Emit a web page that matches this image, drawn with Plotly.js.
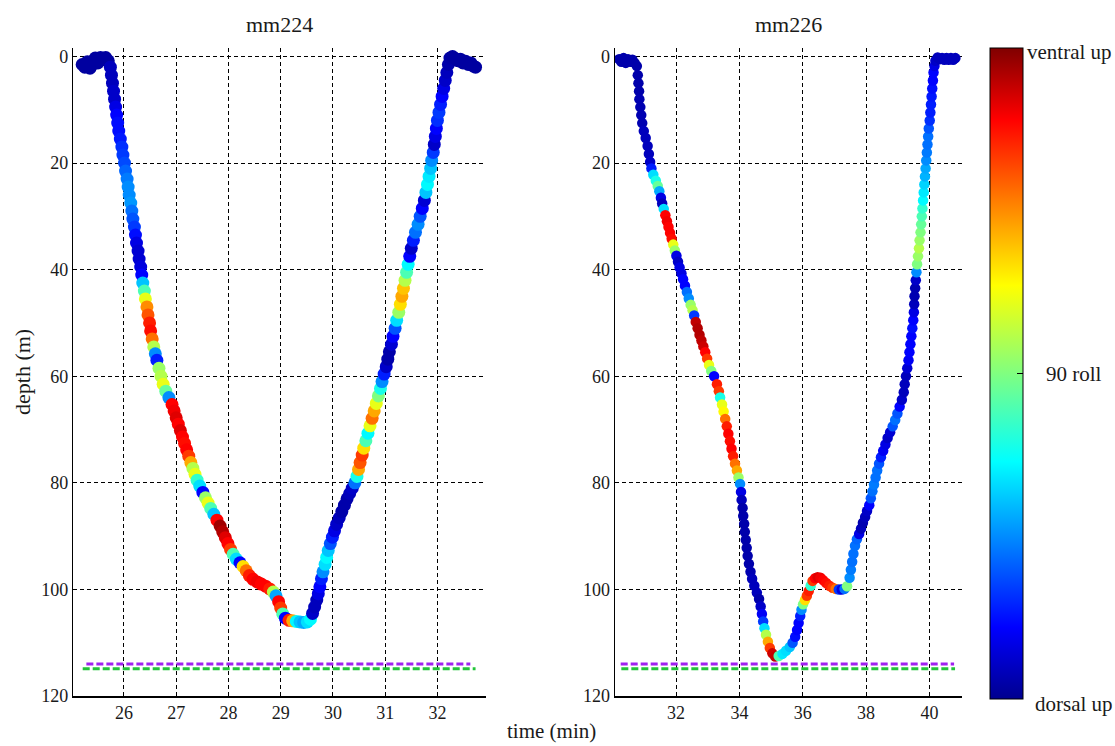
<!DOCTYPE html>
<html>
<head>
<meta charset="utf-8">
<script src="https://cdn.plot.ly/plotly-3.0.1.min.js"></script>
<style>html,body{margin:0;padding:0;background:#fff;}#chart{width:1115px;height:746px;}</style>
</head>
<body>
<div id="chart"></div>
<script>
// ---------- mm224 (left panel): time (min), depth (m), roll (deg, 0 = dorsal up, 180 = ventral up)
const t224 = [
25.20,25.25,25.30,25.35,25.40,25.45,25.50,25.55,25.60,25.65,25.70,
25.74,25.76,25.78,25.80,25.82,25.84,25.86,25.88,25.90,25.93,25.96,25.98,26.01,26.03,26.06,26.08,26.10,26.13,26.15,26.17,
26.20,26.22,26.24,26.27,26.29,26.32,26.34,26.36,26.39,26.41,26.44,26.46,26.49,26.51,26.54,26.57,26.60,26.63,26.67,26.71,
26.75,26.80,26.86,26.92,26.96,27.00,27.04,27.08,27.12,27.16,27.20,27.24,27.28,27.32,27.36,27.40,27.45,27.51,27.56,27.61,
27.66,27.72,27.78,27.84,27.89,27.94,27.99,28.04,28.09,28.15,28.22,28.28,28.34,28.40,28.47,28.55,28.63,28.71,28.79,28.86,
28.91,28.96,29.00,29.04,29.09,29.16,29.23,29.30,29.37,29.44,29.51,29.57,
29.61,29.65,29.69,29.72,29.75,29.78,29.81,29.85,29.88,29.91,29.95,29.99,30.03,30.07,30.12,30.17,30.22,30.27,30.32,30.37,
30.42,30.46,30.49,30.52,30.56,30.59,30.63,30.67,30.71,30.75,30.79,30.83,30.87,30.91,30.94,30.98,31.02,31.05,31.08,31.12,
31.15,31.19,31.22,31.26,31.29,31.32,31.35,31.38,31.41,31.44,31.47,31.50,31.54,31.58,31.63,31.67,31.71,31.75,31.78,31.81,
31.84,31.87,31.89,31.92,31.94,31.96,31.98,32.00,32.03,32.06,32.09,32.12,32.15,32.18,32.21,32.24,
32.29,32.34,32.39,32.44,32.49,32.54,32.59,32.64,32.69,32.73
];
const depth224 = [
1.5,2.0,1.0,2.2,1.5,0.3,1.2,0.2,0.6,0.2,0.8,
2.0,3.5,5.0,6.5,8.0,9.5,11.0,12.5,14.0,15.5,17.0,18.5,20.0,21.5,23.0,24.5,26.0,27.5,29.0,30.5,
32.0,33.5,35.0,36.5,38.0,39.5,41.0,42.5,44.0,45.5,47.0,48.5,50.0,51.5,53.0,54.5,55.8,57.0,58.5,60.0,
61.5,62.8,64.0,65.3,66.5,67.8,69.0,70.2,71.4,72.6,73.8,75.0,76.2,77.3,78.4,79.5,80.6,81.8,82.8,83.8,
84.8,85.9,87.0,88.1,89.2,90.3,91.4,92.5,93.4,94.3,95.0,95.7,96.5,97.4,98.1,98.6,99.0,99.4,99.9,100.5,
101.2,102.3,103.5,104.6,105.4,105.8,105.9,106.0,106.1,106.2,106.1,105.6,
104.5,103.3,102.0,100.8,99.5,98.0,96.7,95.3,94.0,92.7,91.4,90.2,89.0,87.8,86.6,85.4,84.2,83.0,82.0,81.0,
80.0,78.8,77.5,76.2,74.8,73.5,72.1,70.7,69.3,67.9,66.5,65.1,63.7,62.3,61.0,59.6,58.2,56.8,55.4,54.0,
52.5,51.0,49.5,48.0,46.5,45.0,43.5,42.0,40.5,39.0,37.5,36.0,34.5,33.0,31.5,30.0,28.5,27.0,25.5,24.0,
22.5,21.0,19.5,18.0,16.5,15.0,13.5,12.0,10.5,9.0,7.5,6.0,4.5,3.0,1.5,0.3,
0.0,0.4,0.8,0.5,1.2,0.9,1.5,1.2,1.8,2.0
];
const roll224 = [
3,3,3,3,3,3,3,3,3,3,3,
8,8,8,10,10,15,20,22,22,24,28,30,33,38,42,45,45,47,40,35,
30,22,15,12,12,14,20,55,80,110,135,145,155,158,140,100,45,25,95,100,
110,85,45,160,162,165,160,165,160,158,160,150,130,100,110,75,60,20,95,110,
80,55,160,175,172,165,160,150,80,60,20,120,140,155,160,162,160,160,155,100,
50,160,150,80,20,155,130,65,55,50,60,65,
10,8,8,15,20,25,45,60,65,55,35,25,15,10,8,5,5,5,8,10,
40,70,130,145,150,120,80,65,110,140,130,110,90,70,45,25,10,5,5,12,
20,35,60,95,120,130,125,100,80,65,20,10,25,40,45,35,20,12,55,65,
62,55,45,30,10,15,20,28,30,25,20,15,10,8,5,4,
3,3,3,3,3,3,3,3,3,3
];

// ---------- mm226 (right panel)
const t226 = [
30.20,30.27,30.34,30.41,30.48,30.55,30.62,30.69,
30.76,30.79,30.81,30.83,30.84,30.87,30.90,30.93,30.98,31.04,31.10,31.14,31.18,31.22,31.28,31.36,31.42,31.47,31.52,31.56,
31.61,31.66,31.71,31.76,31.81,31.86,31.91,31.96,32.01,32.06,32.11,32.17,32.22,32.28,32.34,32.40,32.46,32.52,32.57,32.62,
32.68,32.74,32.80,32.86,32.92,32.98,33.04,33.11,33.20,33.29,33.35,33.39,33.45,33.50,33.55,33.60,33.65,33.70,33.75,33.80,
33.86,33.92,33.97,34.02,34.05,34.07,34.10,34.12,34.15,34.17,34.20,34.23,34.26,34.30,34.35,34.40,34.47,34.55,34.62,34.67,
34.71,34.75,34.79,34.84,34.90,34.96,35.04,35.13,35.24,35.36,35.47,35.59,35.68,35.76,35.82,35.87,35.92,35.96,36.01,36.07,
36.13,36.19,36.25,36.31,36.39,36.47,36.56,36.65,36.74,36.84,36.94,37.04,37.14,37.23,37.32,
37.40,37.48,37.52,37.56,37.60,37.65,37.71,37.78,37.84,37.90,37.97,38.03,38.10,38.15,38.20,38.25,38.30,38.35,38.41,38.47,
38.54,38.61,38.68,38.76,38.84,38.92,38.99,39.06,39.13,39.19,39.22,39.26,39.30,39.34,39.37,39.40,39.43,39.46,39.49,39.51,
39.52,39.53,39.55,39.57,39.59,39.61,39.64,39.67,39.69,39.72,39.74,39.76,39.78,39.80,39.82,39.84,39.86,39.88,39.90,39.92,
39.94,39.96,39.98,40.01,40.03,40.05,40.07,40.09,40.11,40.13,40.16,40.19,
40.26,40.33,40.40,40.47,40.54,40.61,40.68,40.75,40.82
];
const depth226 = [
0.5,1.0,0.3,1.2,0.5,1.0,0.6,1.2,
1.8,3.5,5.0,6.5,8.0,9.5,11.0,12.5,14.0,15.3,16.8,18.3,19.8,21.0,22.2,23.3,24.3,25.3,26.5,27.6,
28.6,29.8,30.9,32.0,33.1,34.2,35.3,36.4,37.4,38.5,39.6,40.7,41.8,43.0,44.2,45.4,46.6,47.6,48.6,49.8,
51.0,52.2,53.3,54.4,55.5,56.7,57.9,59.0,60.0,61.5,62.8,64.0,65.3,66.6,68.0,69.4,70.8,72.2,73.6,75.0,
76.4,77.7,79.0,80.2,81.7,83.2,84.7,86.2,87.7,89.2,90.7,92.2,93.7,95.2,96.7,98.0,99.3,100.6,101.8,103.2,
104.6,106.0,107.3,108.5,109.8,111.0,112.0,112.6,112.5,112.1,111.5,110.8,110.0,108.9,107.6,106.3,105.0,103.8,102.8,102.0,
101.2,100.3,99.3,98.4,97.9,97.7,97.8,98.3,98.8,99.3,99.7,99.9,100.0,100.0,99.9,
99.4,97.8,96.3,94.8,93.3,91.8,90.6,89.6,88.6,87.5,86.4,85.3,84.2,82.9,81.6,80.3,79.0,77.7,76.4,75.2,
74.0,72.8,71.6,70.5,69.4,68.2,67.0,65.7,64.4,63.0,61.5,60.0,58.5,57.0,55.5,54.0,52.5,51.0,49.5,48.0,
46.5,45.0,43.5,42.0,40.5,39.0,37.5,36.0,34.5,33.0,31.5,30.0,28.5,27.0,25.5,24.0,22.5,21.0,19.5,18.0,
16.5,15.0,13.5,12.0,10.5,9.0,7.5,6.0,4.5,3.0,1.8,0.8,
0.2,0.5,0.3,0.6,0.3,0.6,0.3,0.6,0.3
];
const roll226 = [
5,5,5,5,5,5,5,5,
5,5,5,5,6,6,6,6,8,8,8,8,10,25,60,70,85,50,15,8,
60,160,162,160,160,158,110,95,15,10,15,15,20,20,40,45,95,100,30,170,
172,172,170,168,160,150,110,90,20,155,150,70,110,115,140,155,160,158,160,155,
140,130,95,45,15,8,5,5,5,5,5,5,5,5,6,8,8,8,5,10,
18,30,60,100,130,150,168,170,80,62,60,55,35,22,20,20,25,45,90,120,
150,155,75,150,160,165,162,160,158,155,150,140,30,15,40,
90,45,42,40,40,40,38,15,8,6,8,10,20,35,40,42,40,40,35,25,
18,15,10,12,35,40,35,20,10,8,8,8,12,18,20,20,20,22,20,15,
8,6,6,10,45,90,95,100,95,90,85,80,75,65,62,58,52,50,45,42,
40,40,35,28,25,25,24,22,20,20,15,10,
8,8,8,8,8,8,8,8,8
];

// ---------- dashed reference lines near the bottom (depth, m)
const purple224T = [25.28, 32.63], purple224D = [114.0, 114.0];
const green224T  = [25.21, 32.73], green224D  = [114.9, 114.9];
const purple226T = [30.25, 40.78], purple226D = [114.0, 114.0];
const green226T  = [30.27, 40.81], green226D  = [114.9, 114.9];

// ---------- ticks / labels
const depthTicks = [0, 20, 40, 60, 80, 100, 120];
const time224Ticks = [26, 27, 28, 29, 30, 31, 32];
const time226Ticks = [32, 34, 36, 38, 40];
const panelTitles = ['mm224', 'mm226'];
const colorbarLabels = ['ventral up', '90 roll', 'dorsal up'];

const W = 1115, H = 746;
const px = x => x / W, py = y => 1 - y / H;
const FONT = 'Liberation Serif, Times New Roman, serif';
const TXT = '#1a1a1a';

const jet = [
  [0, 'rgb(0,0,143)'], [0.11, 'rgb(0,0,255)'], [0.365, 'rgb(0,255,255)'],
  [0.5, 'rgb(128,255,128)'], [0.635, 'rgb(255,255,0)'], [0.89, 'rgb(255,0,0)'], [1, 'rgb(128,0,0)']
];

const dashLine = (x, y, color, xa, ya) => ({
  x: x, y: y, type: 'scatter', mode: 'lines', xaxis: xa, yaxis: ya, hoverinfo: 'skip',
  line: { color: color, width: 3, dash: '7px,3px' }
});

const traces = [
  dashLine(purple224T, purple224D, '#a020f0', 'x', 'y'),
  dashLine(green224T, green224D, '#22c43a', 'x', 'y'),
  dashLine(purple226T, purple226D, '#a020f0', 'x2', 'y2'),
  dashLine(green226T, green226D, '#22c43a', 'x2', 'y2'),
  {
    x: t224, y: depth224, type: 'scatter', mode: 'markers', xaxis: 'x', yaxis: 'y',
    marker: { color: roll224, cmin: 0, cmax: 180, colorscale: jet, size: 13, line: { width: 0 }, showscale: false }
  },
  {
    x: t226, y: depth226, type: 'scatter', mode: 'markers', xaxis: 'x2', yaxis: 'y2',
    marker: {
      color: roll226, cmin: 0, cmax: 180, colorscale: jet, size: 10.5, line: { width: 0 }, showscale: true,
      colorbar: {
        x: px(990), xanchor: 'left', y: py(48.3), yanchor: 'top',
        len: 650.7, lenmode: 'pixels', thickness: 33, thicknessmode: 'pixels',
        xpad: 0, ypad: 0, outlinewidth: 1, outlinecolor: '#000', borderwidth: 0,
        tickvals: [90], ticks: 'inside', ticklen: 6, tickcolor: '#000', showticklabels: false
      }
    }
  }
];

const axisCommon = {
  showgrid: true, gridcolor: '#000', griddash: '4px,3px', gridwidth: 1,
  showline: true, linecolor: '#000', linewidth: 1.5, ticks: '', zeroline: false,
  tickfont: { family: FONT, size: 18, color: TXT }, fixedrange: true
};
const yDomain = [py(696), py(47.7)];

const ann = (text, x, y, opts) => Object.assign({
  text: text, x: px(x), y: py(y), xref: 'paper', yref: 'paper', showarrow: false,
  xanchor: 'center', yanchor: 'middle', font: { family: FONT, size: 22, color: TXT }
}, opts || {});

const layout = {
  width: W, height: H, margin: { l: 0, r: 0, t: 0, b: 0 },
  paper_bgcolor: '#fff', plot_bgcolor: '#fff', showlegend: false,
  xaxis: Object.assign({}, axisCommon, { domain: [px(73.3), px(486)], range: [25.03, 32.93], tickvals: time224Ticks, anchor: 'y' }),
  yaxis: Object.assign({}, axisCommon, { domain: yDomain, range: [120, -1.65], tickvals: depthTicks, anchor: 'x' }),
  xaxis2: Object.assign({}, axisCommon, { domain: [px(615), px(961.7)], range: [30.07, 41.02], tickvals: time226Ticks, anchor: 'y2' }),
  yaxis2: Object.assign({}, axisCommon, { domain: yDomain, range: [120, -1.65], tickvals: depthTicks, anchor: 'x2' }),
  annotations: [
    ann(panelTitles[0], 279.6, 24.5),
    ann(panelTitles[1], 788, 24.5),
    ann('time (min)', 551, 745, { yanchor: 'bottom', font: { family: FONT, size: 21, color: TXT } }),
    ann('depth (m)', 22, 372, { textangle: -90 }),
    ann(colorbarLabels[0], 1025, 52, { xanchor: 'left', font: { family: FONT, size: 21, color: TXT } }),
    ann(colorbarLabels[1], 1044, 374, { xanchor: 'left', font: { family: FONT, size: 21, color: TXT } }),
    ann(colorbarLabels[2], 1033, 704, { xanchor: 'left', font: { family: FONT, size: 21, color: TXT } })
  ]
};

Plotly.newPlot('chart', traces, layout, { staticPlot: true, displayModeBar: false });
</script>
</body>
</html>
